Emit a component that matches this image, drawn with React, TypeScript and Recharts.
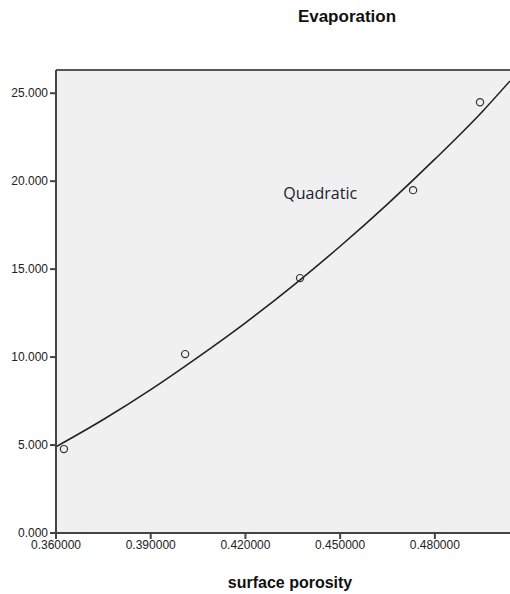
import React from "react";
import {
  ComposedChart, Scatter, Line, XAxis, YAxis, ReferenceArea, ReferenceLine, ReferenceDot,
} from "recharts";

// observed points (surface porosity vs evaporation)
const porosity = [0.3625, 0.4009, 0.4373, 0.4731, 0.4943];
const evaporation = [4.77, 10.17, 14.49, 19.49, 24.49];

// quadratic fit line
const fitX = [0.36, 0.375, 0.39, 0.405, 0.42, 0.435, 0.45, 0.465, 0.48, 0.495, 0.5038];
const fitY = [4.9, 6.45, 8.15, 10.0, 11.95, 14.05, 16.3, 18.7, 21.25, 23.95, 25.7];

const xTicks = [0.36, 0.39, 0.42, 0.45, 0.48];
const yTicks = [0, 5, 10, 15, 20, 25];

const X_MIN = 0.36;
const X_MAX = 0.5038;
const Y_MIN = 0;
const Y_MAX = 26.32;

const points = porosity.map((x, i) => ({ x, y: evaporation[i] }));
const fit = fitX.map((x, i) => ({ x, y: fitY[i] }));

const FONT = "'Liberation Sans', Arial, sans-serif";

const XTick = (props: any) => {
  const { x, y, payload } = props;
  return (
    <text x={x} y={y + 10} textAnchor="middle" style={{ fontFamily: FONT, fontSize: 12, fill: "#222" }}>
      {payload.value.toFixed(6)}
    </text>
  );
};

const YTick = (props: any) => {
  const { x, y, payload } = props;
  return (
    <text x={x} y={y} textAnchor="end" dominantBaseline="central"
      style={{ fontFamily: FONT, fontSize: 12, fill: "#222" }}>
      {payload.value.toFixed(3)}
    </text>
  );
};

const Ring = (props: any) => {
  const { cx, cy } = props;
  return <circle cx={cx} cy={cy} r={3.6} fill="none" stroke="#333" strokeWidth={1.2} />;
};

const QuadLabel = (props: any) => {
  const { viewBox } = props;
  return (
    <text x={viewBox.x} y={viewBox.y} dominantBaseline="central"
      style={{ fontFamily: "'Open Sans', sans-serif", fontSize: 16, fill: "#1c1c2c" }}>
      Quadratic
    </text>
  );
};

export default function App() {
  return (
    <div style={{ position: "absolute", left: 0, top: 0, width: 510, height: 594, background: "#fff" }}>
      <div style={{
        position: "absolute", left: 347, top: 17, transform: "translate(-50%, -50%)",
        fontFamily: FONT, fontWeight: "bold", fontSize: 17,
        color: "#111", whiteSpace: "nowrap",
      }}>Evaporation</div>
      <ComposedChart width={510} height={594} margin={{ top: 70, right: 0, bottom: 0, left: 0 }}>
        <XAxis
          type="number" dataKey="x" domain={[X_MIN, X_MAX]} ticks={xTicks} allowDataOverflow
          height={61} tick={<XTick />} tickSize={6} tickMargin={0}
          axisLine={{ stroke: "#444", strokeWidth: 2 }} tickLine={{ stroke: "#444", strokeWidth: 2 }}
        />
        <YAxis
          type="number" dataKey="y" domain={[Y_MIN, Y_MAX]} ticks={yTicks} allowDataOverflow
          width={56} tick={<YTick />} tickSize={6} tickMargin={2}
          axisLine={{ stroke: "#444", strokeWidth: 2 }} tickLine={{ stroke: "#444", strokeWidth: 2 }}
        />
        <ReferenceArea x1={X_MIN} x2={X_MAX} y1={Y_MIN} y2={Y_MAX} fill="#f0f0f0" fillOpacity={1} stroke="none" />
        <ReferenceLine y={Y_MAX} stroke="#222" strokeWidth={1.5} />
        <Line data={fit} dataKey="y" type="monotone" stroke="#222" strokeWidth={1.6} dot={false}
          isAnimationActive={false} />
        <Scatter data={points} dataKey="y" shape={<Ring />} isAnimationActive={false} />
        <ReferenceDot x={0.432} y={19.3} r={0} stroke="none" fill="none" label={<QuadLabel />} />
      </ComposedChart>
      <div style={{
        position: "absolute", left: 290, top: 583, transform: "translate(-50%, -50%)",
        fontFamily: FONT, fontWeight: "bold", fontSize: 16,
        color: "#111", whiteSpace: "nowrap",
      }}>surface porosity</div>
    </div>
  );
}
